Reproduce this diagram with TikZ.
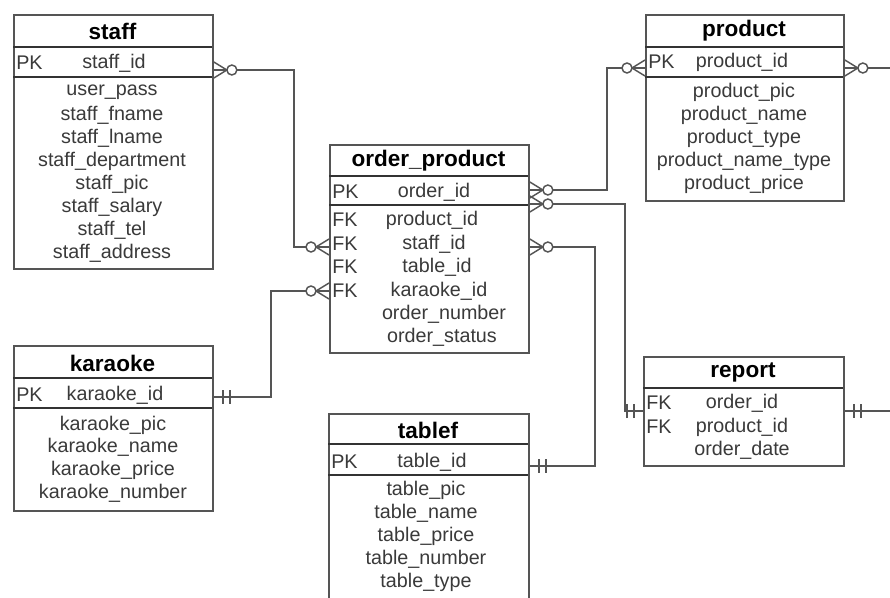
\documentclass[tikz,border=0pt]{standalone}
\usepackage{fontspec}
\setmainfont{Liberation Sans}
\usetikzlibrary{calc}
\definecolor{linegray}{HTML}{555555}
\definecolor{textgray}{HTML}{3A3A3A}
\tikzset{
  tbl/.style={draw=linegray, line width=1.4pt, fill=white, anchor=north west, inner sep=0pt},
  ttl/.style={font=\fontsize{16.9}{19}\selectfont\bfseries, text=black, inner sep=0pt},
  attr/.style={font=\fontsize{14.8}{17}\selectfont, text=textgray, inner sep=0pt},
  key/.style={attr, anchor=west},
  sep/.style={draw=black!80, line width=1.3pt},
  conn/.style={draw=linegray, line width=1.1pt},
  zeromany/.pic={
    \draw[conn] (0,-8) -- (13,0) -- (0,8);
    \draw[conn, fill=white] (18,0) circle[radius=3.75pt];
  },
  oneone/.pic={
    \draw[conn] (9,-7) -- (9,7) (16,-7) -- (16,7);
  },
}

\begin{document}
\begin{tikzpicture}[x=0.75pt, y=-0.75pt]
  \useasboundingbox (0,0) rectangle (890,597);
  \clip (0,0) rectangle (890,597);

  % staff
  \node[tbl, minimum width=199*0.75pt, minimum height=254*0.75pt] (staff) at (13,14) {};
  \node[ttl] (staffttl) at (112.5,31) {staff};
  \draw[sep] (13,47) -- (212,47) (13,77) -- (212,77);
  \node[key] (staffpk) at (16,63) {PK};
  \node[attr] (staffid) at (114,63) {staff\_id};
  \foreach \t [count=\i from 0] in {user\_pass, staff\_fname, staff\_lname, staff\_department, staff\_pic, staff\_salary, staff\_tel, staff\_address}
    \node[attr] (staffa\i) at (112,92+23*\i) {\t};

  % product
  \node[tbl, minimum width=198*0.75pt, minimum height=186*0.75pt] (product) at (645,14) {};
  \node[ttl] (prodttl) at (744,31) {product};
  \draw[sep] (645,47) -- (843,47) (645,77) -- (843,77);
  \node[key] (prodpk) at (648,62) {PK};
  \node[attr] (prodid) at (742,62) {product\_id};
  \foreach \t [count=\i from 0] in {product\_pic, product\_name, product\_type, product\_name\_type, product\_price}
    \node[attr] (proda\i) at (744,92+23.2*\i) {\t};

  % order_product
  \node[tbl, minimum width=199*0.75pt, minimum height=208*0.75pt] (order) at (329,144) {};
  \node[ttl] (ordttl) at (428.5,161) {order\_product};
  \draw[sep] (329,176) -- (528,176) (329,205) -- (528,205);
  \node[key] (ordpk) at (332,192) {PK};
  \node[attr] (ordid) at (434,192) {order\_id};
  \node[key] (ordfk1) at (332,220) {FK};
  \node[key] (ordfk2) at (332,244) {FK};
  \node[key] (ordfk3) at (332,267) {FK};
  \node[key] (ordfk4) at (332,291) {FK};
  \node[attr] (ordprod) at (432,220) {product\_id};
  \node[attr] (ordstaff) at (434,244) {staff\_id};
  \node[attr] (ordtable) at (437,267) {table\_id};
  \node[attr] (ordkara) at (439,291) {karaoke\_id};
  \node[attr] (ordnum) at (444,314) {order\_number};
  \node[attr] (ordstatus) at (442,337) {order\_status};

  % karaoke
  \node[tbl, minimum width=199*0.75pt, minimum height=165*0.75pt] (karaoke) at (13,345) {};
  \node[ttl] (karattl) at (112.5,363) {karaoke};
  \draw[sep] (13,378) -- (212,378) (13,408) -- (212,408);
  \node[key] (karapk) at (16,395) {PK};
  \node[attr] (karaid) at (115,395) {karaoke\_id};
  \foreach \t [count=\i from 0] in {karaoke\_pic, karaoke\_name, karaoke\_price, karaoke\_number}
    \node[attr] (karaa\i) at (113,425+22.7*\i) {\t};

  % tablef
  \node[tbl, minimum width=200*0.75pt, minimum height=207*0.75pt] (tablef) at (328,413) {};
  \node[ttl] (tabttl) at (428,430) {tablef};
  \draw[sep] (328,444) -- (528,444) (328,475) -- (528,475);
  \node[key] (tabpk) at (331,462) {PK};
  \node[attr] (tabid) at (432,462) {table\_id};
  \foreach \t [count=\i from 0] in {table\_pic, table\_name, table\_price, table\_number, table\_type}
    \node[attr] (taba\i) at (426,490+23.2*\i) {\t};

  % report
  \node[tbl, minimum width=200*0.75pt, minimum height=109*0.75pt] (report) at (643,356) {};
  \node[ttl] (repttl) at (743,372) {report};
  \draw[sep] (643,388) -- (843,388);
  \node[key] (repfk1) at (646,403) {FK};
  \node[key] (repfk2) at (646,427) {FK};
  \node[attr] (repord) at (742,403) {order\_id};
  \node[attr] (repprod) at (742,427) {product\_id};
  \node[attr] (repdate) at (742,450) {order\_date};

  % connectors
  \draw[conn] ($(staff.east |- staffid)+(0,7)$) -- ++(80,0) |- ($(order.west |- ordstaff)+(0,3)$);
  \draw[conn] ($(karaoke.east |- karaid)+(0,2)$) -- ++(57,0) |- (order.west |- ordkara);
  \draw[conn] ($(order.east |- ordid)+(0,-2)$) -- ++(77,0) |- ($(product.west |- prodid)+(0,6)$);
  \draw[conn] ($(order.east |- ordid)+(0,12)$) -- ++(95,0) |- ($(report.west |- repord)+(0,8)$);
  \draw[conn] ($(order.east |- ordstaff)+(0,3)$) -- ++(65,0) |- ($(tablef.east |- tabid)+(0,4)$);
  \draw[conn] ($(product.east |- prodid)+(0,6)$) -- ++(60,0);
  \draw[conn] ($(report.east |- repord)+(0,8)$) -- ++(60,0);

  % ends
  \pic at ($(staff.east |- staffid)+(0,7)$) {zeromany};
  \pic[rotate=180] at ($(order.west |- ordstaff)+(0,3)$) {zeromany};
  \pic at ($(karaoke.east |- karaid)+(0,2)$) {oneone};
  \pic[rotate=180] at (order.west |- ordkara) {zeromany};
  \pic at ($(order.east |- ordid)+(0,-2)$) {zeromany};
  \pic[rotate=180] at ($(product.west |- prodid)+(0,6)$) {zeromany};
  \pic at ($(order.east |- ordid)+(0,12)$) {zeromany};
  \pic[rotate=180] at ($(report.west |- repord)+(0,8)$) {oneone};
  \pic at ($(order.east |- ordstaff)+(0,3)$) {zeromany};
  \pic at ($(tablef.east |- tabid)+(0,4)$) {oneone};
  \pic at ($(product.east |- prodid)+(0,6)$) {zeromany};
  \pic at ($(report.east |- repord)+(0,8)$) {oneone};
\end{tikzpicture}
\end{document}
